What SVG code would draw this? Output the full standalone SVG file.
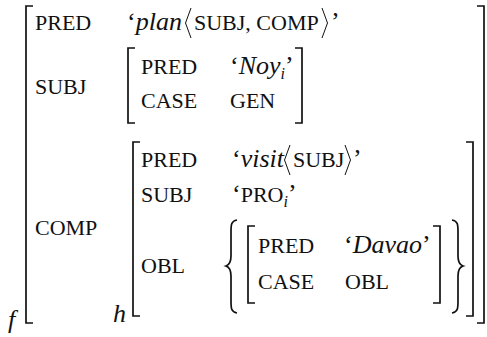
<svg xmlns="http://www.w3.org/2000/svg" width="487" height="337" viewBox="0 0 487 337">
  <defs>
    <style>
      text { font-family: 'Liberation Serif', serif; fill: #111; }
      .sc { font-size: 22px; }
      .rm { font-size: 26px; }
      .it { font-style: italic; font-size: 26px; }
      .sub { font-style: italic; font-size: 16px; }
      .delim { fill: none; stroke: #111; stroke-width: 1.7; }
      .ang { fill: none; stroke: #111; stroke-width: 1; }
    </style>
  </defs>
  <rect width="487" height="337" fill="#fff"/>

  <!-- outer f-structure -->
  <g id="f">
    <path class="delim" d="M33,6 H26 V323 H33"/>
    <path class="delim" d="M477,6 H484 V323 H477"/>
    <text class="it" x="8" y="328">f</text>
    <text class="sc" x="35" y="30">PRED</text>
    <text class="rm" x="127" y="30">‘<tspan class="it">plan</tspan></text>
    <path class="ang" d="M191,8 L185.5,23 L191,38"/>
    <text class="sc" x="194" y="30">SUBJ, COMP</text>
    <path class="ang" d="M322,8 L327.5,23 L322,38"/>
    <text class="rm" x="331" y="30">’</text>
    <text class="sc" x="35" y="94">SUBJ</text>
    <text class="sc" x="35" y="235">COMP</text>
  </g>

  <!-- SUBJ value -->
  <g id="subj">
    <path class="delim" d="M135,48 H128 V123 H135"/>
    <path class="delim" d="M295,48 H302 V123 H295"/>
    <text class="sc" x="141" y="74">PRED</text>
    <text class="rm" x="230" y="74">‘<tspan class="it">Noy</tspan><tspan class="sub" dy="5">i</tspan><tspan dy="-5">’</tspan></text>
    <text class="sc" x="141" y="108">CASE</text>
    <text class="sc" x="230" y="108">GEN</text>
  </g>

  <!-- COMP value h -->
  <g id="h">
    <path class="delim" d="M140,142 H133 V316 H140"/>
    <path class="delim" d="M466,142 H473 V316 H466"/>
    <text class="it" x="113" y="322">h</text>
    <text class="sc" x="141" y="167">PRED</text>
    <text class="rm" x="232" y="167">‘<tspan class="it">visit</tspan></text>
    <path class="ang" d="M290,145 L284.5,160 L290,175"/>
    <text class="sc" x="293" y="167">SUBJ</text>
    <path class="ang" d="M345,145 L350.5,160 L345,175"/>
    <text class="rm" x="353" y="167">’</text>
    <text class="sc" x="141" y="202">SUBJ</text>
    <text class="rm" x="232" y="202">‘<tspan class="sc">PRO</tspan><tspan class="sub" dy="5">i</tspan><tspan dy="-5">’</tspan></text>
    <text class="sc" x="141" y="273">OBL</text>
  </g>

  <!-- OBL set -->
  <g id="obl">
    <path class="delim" d="M237,220 C231,221 231,225 231,232 V256 C231,262 229,265 226,266 C229,267 231,270 231,276 V301 C231,308 231,312 237,313"/>
    <path class="delim" d="M452,220 C458,221 458,225 458,232 V256 C458,262 460,265 463,266 C460,267 458,270 458,276 V301 C458,308 458,312 452,313"/>
    <path class="delim" d="M255,226 H248 V303 H255"/>
    <path class="delim" d="M433,226 H440 V303 H433"/>
    <text class="sc" x="258" y="253">PRED</text>
    <text class="rm" x="344" y="253">‘<tspan class="it">Davao</tspan>’</text>
    <text class="sc" x="258" y="289">CASE</text>
    <text class="sc" x="345" y="289">OBL</text>
  </g>
</svg>
